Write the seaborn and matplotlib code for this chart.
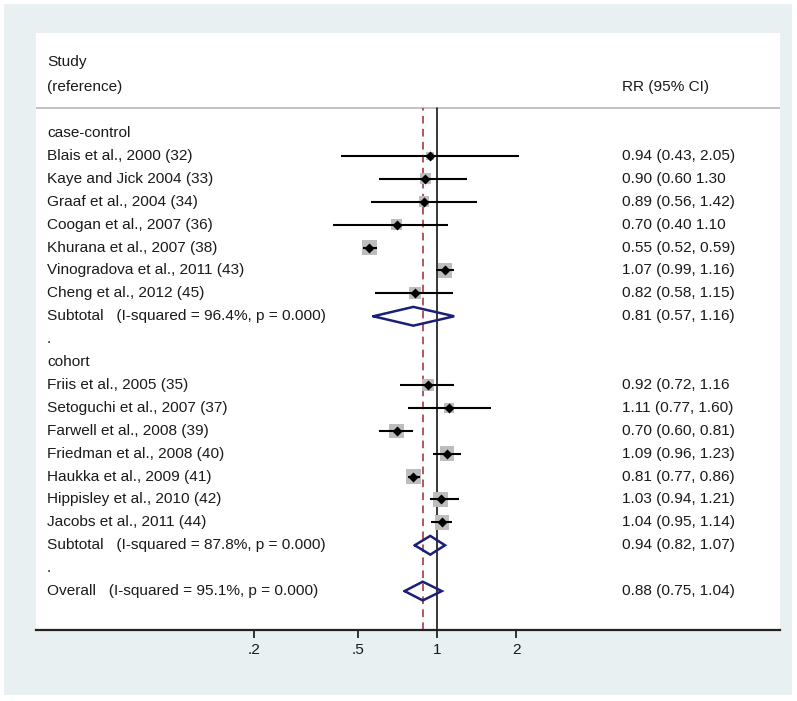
import numpy as np
import pandas as pd
import matplotlib
matplotlib.use('Agg')
import matplotlib.pyplot as plt
import matplotlib.transforms as mtransforms
from matplotlib.patches import Rectangle
import seaborn as sns

sns.set_style('white')
plt.rcParams['font.family'] = ['Liberation Sans', 'DejaVu Sans']

# study data
case_names = ['Blais et al., 2000 (32)', 'Kaye and Jick 2004 (33)', 'Graaf et al., 2004 (34)',
              'Coogan et al., 2007 (36)', 'Khurana et al., 2007 (38)',
              'Vinogradova et al., 2011 (43)', 'Cheng et al., 2012 (45)']
case_rr = [0.94, 0.90, 0.89, 0.70, 0.55, 1.07, 0.82]
case_lo = [0.43, 0.60, 0.56, 0.40, 0.52, 0.99, 0.58]
case_hi = [2.05, 1.30, 1.42, 1.10, 0.59, 1.16, 1.15]
case_w = [2.9, 5.1, 5.1, 5.1, 9.7, 9.7, 6.1]
case_txt = ['0.94 (0.43, 2.05)', '0.90 (0.60 1.30', '0.89 (0.56, 1.42)', '0.70 (0.40 1.10',
            '0.55 (0.52, 0.59)', '1.07 (0.99, 1.16)', '0.82 (0.58, 1.15)']

cohort_names = ['Friis et al., 2005 (35)', 'Setoguchi et al., 2007 (37)', 'Farwell et al., 2008 (39)',
                'Friedman et al., 2008 (40)', 'Haukka et al., 2009 (41)',
                'Hippisley et al., 2010 (42)', 'Jacobs et al., 2011 (44)']
cohort_rr = [0.92, 1.11, 0.70, 1.09, 0.81, 1.03, 1.04]
cohort_lo = [0.72, 0.77, 0.60, 0.96, 0.77, 0.94, 0.95]
cohort_hi = [1.16, 1.60, 0.81, 1.23, 0.86, 1.21, 1.14]
cohort_w = [6.6, 4.6, 9.0, 9.0, 9.0, 9.0, 9.0]
cohort_txt = ['0.92 (0.72, 1.16', '1.11 (0.77, 1.60)', '0.70 (0.60, 0.81)', '1.09 (0.96, 1.23)',
              '0.81 (0.77, 0.86)', '1.03 (0.94, 1.21)', '1.04 (0.95, 1.14)']

# pooled estimates
pooled_names = ['Subtotal   (I-squared = 96.4%, p = 0.000)',
                'Subtotal   (I-squared = 87.8%, p = 0.000)',
                'Overall   (I-squared = 95.1%, p = 0.000)']
pooled_rr = [0.81, 0.94, 0.88]
pooled_lo = [0.57, 0.82, 0.75]
pooled_hi = [1.16, 1.07, 1.04]
pooled_txt = ['0.81 (0.57, 1.16)', '0.94 (0.82, 1.07)', '0.88 (0.75, 1.04)']

xticks = [0.2, 0.5, 1, 2]
xticklabels = ['.2', '.5', '1', '2']

# row layout
rows = ['case-control'] + case_names + [pooled_names[0], '.', 'cohort'] + cohort_names + \
       [pooled_names[1], '.', pooled_names[2]]
rtxt = [''] + case_txt + [pooled_txt[0], '', ''] + cohort_txt + [pooled_txt[1], '', pooled_txt[2]]
case_y = list(range(1, 8))
cohort_y = list(range(11, 18))
pooled_y = [8, 18, 20]

studies = pd.DataFrame({
    'y': case_y + cohort_y,
    'rr': case_rr + cohort_rr,
    'lo': case_lo + cohort_lo,
    'hi': case_hi + cohort_hi,
    'w': case_w + cohort_w,
})

W, H = 797, 701
fig = plt.figure(figsize=(W / 100, H / 100), dpi=100, facecolor='white')
fig.patches.append(Rectangle((4 / W, 1 - 695 / H), (792 - 4) / W, (695 - 4) / H,
                             transform=fig.transFigure, facecolor='#e9f0f2', edgecolor='none', zorder=-5))

ax = fig.add_axes([36 / W, 1 - 630 / H, (780 - 36) / W, (630 - 33) / H])
ax.set_zorder(1)
ax.set_facecolor('white')
ax.set_xscale('log')
ax.set_xlim(np.exp(-401.3 / 113.8), np.exp(342.7 / 113.8))
ax.set_ylim(21.7, -4.37)

# reference lines
sep_frac = (630 - 108) / (630 - 33)
ax.axhline(-1.09, color='#bdbdbd', lw=1.3, zorder=1)
ax.axvline(1, ymin=0, ymax=sep_frac, color='black', lw=1.1, zorder=2)
ax.axvline(pooled_rr[2], ymin=0, ymax=sep_frac, color='#9c2a35', lw=1.1, ls=(0, (5, 3.5)), zorder=2)

# confidence intervals
ax.hlines(studies['y'], studies['lo'], studies['hi'], color='black', lw=1.5, zorder=4)

# weight squares (area proportional to weight)
k = 12.0
sns.scatterplot(data=studies, x='rr', y='y', size='w', sizes=(k * min(studies['w']), k * max(studies['w'])),
                size_norm=(min(studies['w']), max(studies['w'])),
                marker='s', color='#bdbdbd', edgecolor='none', linewidth=0, legend=False, ax=ax, zorder=3)
sns.scatterplot(data=studies, x='rr', y='y', marker='D', s=26, color='black', edgecolor='black',
                linewidth=0, legend=False, ax=ax, zorder=5)

# pooled diamonds
dh = 0.41
for yy, est, lo, hi in zip(pooled_y, pooled_rr, pooled_lo, pooled_hi):
    ax.plot([lo, est, hi, est, lo], [yy, yy - dh, yy, yy + dh, yy], color='#1b1f77', lw=1.8,
            solid_joinstyle='miter', zorder=6)

# text columns
trans = mtransforms.blended_transform_factory(ax.transAxes, ax.transData)
tc = '#1a1a1a'
fs = 11.1
xl = (47 - 36) / 744
xr = (622 - 36) / 744
ax.text(xl, -3.1, 'Study', transform=trans, va='center', ha='left', fontsize=fs, color=tc)
ax.text(xl, -2.0, '(reference)', transform=trans, va='center', ha='left', fontsize=fs, color=tc)
ax.text(xr, -2.0, 'RR (95% CI)', transform=trans, va='center', ha='left', fontsize=fs, color=tc)
for i, (lab, rt) in enumerate(zip(rows, rtxt)):
    ax.text(xl, i, lab, transform=trans, va='center', ha='left', fontsize=fs, color=tc)
    if rt:
        ax.text(xr, i, rt, transform=trans, va='center', ha='left', fontsize=fs, color=tc)

# axis styling
for s in ['top', 'right', 'left']:
    ax.spines[s].set_visible(False)
ax.spines['bottom'].set_color('#222222')
ax.spines['bottom'].set_linewidth(1.6)
ax.set_xticks(xticks)
ax.set_xticklabels(xticklabels, fontsize=fs, color=tc)
ax.xaxis.set_minor_locator(matplotlib.ticker.NullLocator())
ax.tick_params(axis='x', which='major', direction='out', length=6, width=1.3, color='#222222', pad=3, bottom=True)
ax.set_yticks([])
ax.set_xlabel('')
ax.set_ylabel('')

fig.savefig('out.png', dpi=100, facecolor='white')
